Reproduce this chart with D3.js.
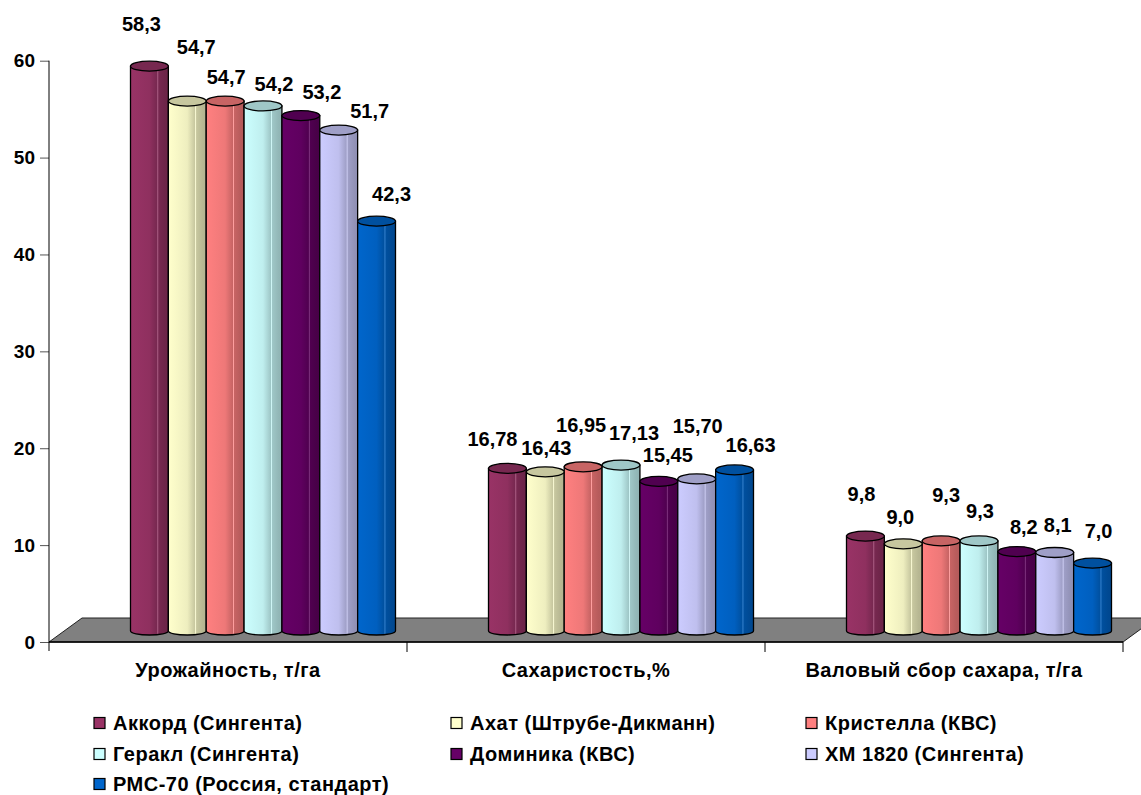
<!DOCTYPE html>
<html>
<head>
<meta charset="utf-8">
<script src="https://cdn.jsdelivr.net/npm/d3@7"></script>
<style>
  html, body { margin: 0; padding: 0; background: #fff; }
  text { font-family: "Liberation Sans", Arial, sans-serif; font-weight: bold; fill: #000; }
</style>
</head>
<body>
<svg id="chart" width="1141" height="795"></svg>
<script>
// ---------- data ----------
const categories = ["Урожайность, т/га", "Сахаристость,%", "Валовый сбор сахара, т/га"];
const seriesNames = [
  "Аккорд (Сингента)", "Ахат (Штрубе-Дикманн)", "Кристелла (КВС)",
  "Геракл (Сингента)", "Доминика (КВС)", "ХМ 1820 (Сингента)", "РМС-70 (Россия, стандарт)"
];
const seriesColors = ["#993366", "#FFFFCC", "#FF8080", "#CCFFFF", "#660066", "#CCCCFF", "#0066CC"];
const yieldValues   = [58.3, 54.7, 54.7, 54.2, 53.2, 51.7, 42.3];
const sugarContent  = [16.78, 16.43, 16.95, 17.13, 15.45, 15.70, 16.63];
const sugarHarvest  = [9.8, 9.0, 9.3, 9.3, 8.2, 8.1, 7.0];
const labelDecimals = [1, 2, 1];
const yTicks = [0, 10, 20, 30, 40, 50, 60];

// label nudges (layout only): [dx, dy] per category, per series
const labelNudge = [
  [[-8,-18],[9,-30],[1,0],[11,2],[21,0],[31,5],[15,-3]],
  [[-15,-5],[1,0],[-2,-18],[13,-8],[9,-2],[1,-29],[16,-1]],
  [[-4,-18],[-3,-3],[5,-22],[1,-6],[7,-1],[3,-4],[6,-8]]
];

const valuesByCat = [yieldValues, sugarContent, sugarHarvest];

// ---------- layout ----------
const svg = d3.select("#chart");
const axisX = 49, axisBottom = 642;
const floorDx = 33, floorDy = 24;
const barShiftY = -11;
const groupOffset = 81.5, groupWidth = 265;

const y = d3.scaleLinear().domain([0, 60]).range([axisBottom, 60.7]);
const x0 = d3.scaleBand().domain(categories).range([axisX, 1123]).padding(0);
const x1 = d3.scaleBand().domain(seriesNames).range([0, groupWidth]).padding(0);

// gradients
const defs = svg.append("defs");
seriesColors.forEach((c, i) => {
  const dark = d3.interpolateRgb(c, "#000")(0.22);
  const light = d3.interpolateRgb(c, "#fff")(0.25);
  const g = defs.append("linearGradient").attr("id", "g" + i).attr("x1", "0%").attr("x2", "100%");
  [[0, c], [0.5, d3.interpolateRgb(c, dark)(0.3)], [0.7, dark], [0.72, light], [0.745, dark], [0.9, d3.interpolateRgb(c,"#000")(0.28)], [1, d3.interpolateRgb(c,"#000")(0.3)]]
    .forEach(([o, col]) => g.append("stop").attr("offset", o).attr("stop-color", col));
});

// floor
svg.append("polygon")
  .attr("points", [[axisX, axisBottom], [axisX + floorDx, axisBottom - floorDy], [1123 + floorDx, axisBottom - floorDy], [1123, axisBottom]].map(p => p.join(",")).join(" "))
  .attr("fill", "#808080").attr("stroke", "#222").attr("stroke-width", 1);

// y axis
const yAxis = d3.axisLeft(y).tickValues(yTicks).tickSize(9).tickPadding(5).tickFormat(d3.format("d"));
const yg = svg.append("g").attr("transform", `translate(${axisX},0)`).call(yAxis);
yg.select(".domain").remove();
yg.selectAll(".tick line").attr("stroke", "#555");
yg.selectAll(".tick text").attr("font-size", 19).attr("font-family", "Liberation Sans, Arial, sans-serif").attr("font-weight", "bold").attr("fill", "#000");
svg.append("line").attr("x1", axisX).attr("x2", axisX).attr("y1", y(60)).attr("y2", axisBottom + 9).attr("stroke", "#000");

// x axis
svg.append("line").attr("x1", axisX).attr("x2", 1123).attr("y1", axisBottom).attr("y2", axisBottom).attr("stroke", "#000").attr("stroke-width", 1.5);
categories.forEach(c => {
  const xe = x0(c) + x0.bandwidth();
  svg.append("line").attr("x1", xe).attr("x2", xe).attr("y1", axisBottom).attr("y2", axisBottom + 10).attr("stroke", "#000");
});
svg.append("g").selectAll("text").data(categories).join("text")
  .attr("x", d => x0(d) + x0.bandwidth() / 2)
  .attr("y", 677)
  .attr("text-anchor", "middle")
  .attr("font-size", 20)
  .attr("letter-spacing", 0.5)
  .text(d => d);

// bars
const ryTop = 5, ryBot = 4;
categories.forEach((cat, ci) => {
  const g = svg.append("g");
  const vals = valuesByCat[ci];
  const data = seriesNames.map((s, si) => ({ s, si, v: vals[si] }));
  const w = x1.bandwidth();
  const xl = d => x0(cat) + groupOffset + x1(d.s);
  const top = d => y(d.v) + barShiftY;
  const bot = y(0) + barShiftY;
  g.selectAll("path.body").data(data).join("path")
    .attr("class", "body")
    .attr("d", d => {
      const a = xl(d), b = a + w, t = top(d);
      return `M${a},${t} L${a},${bot} A${w/2},${ryBot} 0 0 0 ${b},${bot} L${b},${t} Z`;
    })
    .attr("fill", d => `url(#g${d.si})`)
    .attr("stroke", "#000").attr("stroke-width", 1.3);
  g.selectAll("ellipse").data(data).join("ellipse")
    .attr("cx", d => xl(d) + w / 2)
    .attr("cy", d => top(d))
    .attr("rx", w / 2).attr("ry", ryTop)
    .attr("fill", d => d3.interpolateRgb(seriesColors[d.si], "#000")(0.22))
    .attr("stroke", "#000").attr("stroke-width", 1.3);
  const fmt = d3.format("." + labelDecimals[ci] + "f");
  g.selectAll("text").data(data).join("text")
    .attr("x", d => xl(d) + w / 2 + labelNudge[ci][d.si][0])
    .attr("y", d => top(d) - 24 + 7 + labelNudge[ci][d.si][1])
    .attr("text-anchor", "middle")
    .attr("font-size", 20)
    .text(d => fmt(d.v).replace(".", ","));
});

// legend
const legCols = [94, 451, 806], legRows = [723, 754, 784];
const lg = svg.append("g");
seriesNames.forEach((s, i) => {
  const cx = legCols[i % 3], cy = legRows[Math.floor(i / 3)];
  lg.append("rect").attr("x", cx).attr("y", cy - 5.5).attr("width", 11).attr("height", 11)
    .attr("fill", seriesColors[i]).attr("stroke", "#000").attr("stroke-width", 1.2);
  lg.append("text").attr("x", cx + 19).attr("y", cy + 7).attr("font-size", 20).attr("letter-spacing", 0.5).text(s);
});
</script>
</body>
</html>
